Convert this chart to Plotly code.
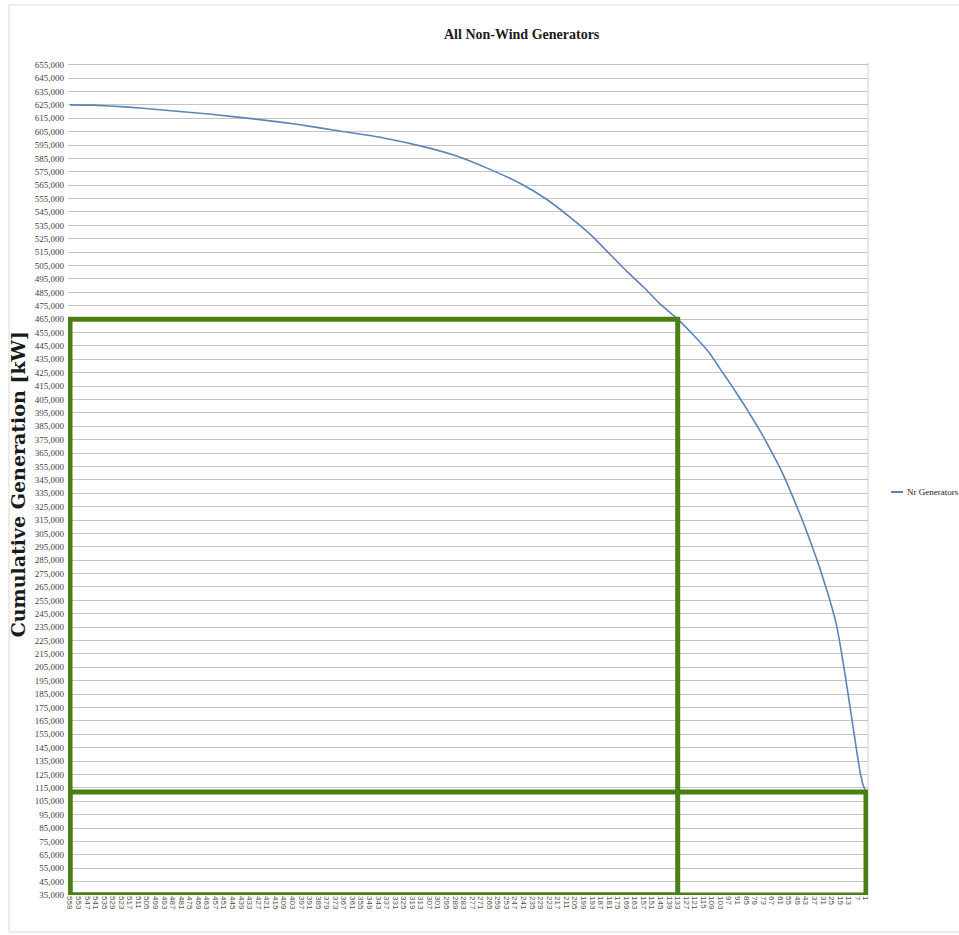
import plotly.graph_objects as go

# Number of generators (descending order, as plotted) and cumulative generation in kW
nr_generators = [559, 543, 520, 496, 460, 426, 400, 370, 340, 312, 290, 265, 242,
                 225, 209, 193, 181, 169, 157, 146, 133, 121, 111, 103, 95, 87,
                 78, 71, 64, 58, 53, 46, 40, 34, 28, 22, 18, 14, 11, 9, 7, 5, 3, 1]
cumulative_kw = [625000, 624800, 623500, 621400, 618000, 614000, 610500, 605500,
                 600500, 594000, 587500, 577000, 565500, 554500, 541500, 527000,
                 514000, 501000, 489000, 477000, 465000, 452000, 440000, 427500,
                 415000, 402000, 386500, 373500, 359500, 346500, 334000, 316000,
                 299000, 281000, 261000, 238000, 215000, 188000, 167000, 153000,
                 139000, 126000, 117000, 112000]

# Category tick labels along the x axis (every 6th generator)
x_ticks = list(range(559, 0, -6))
x_tick_text = [str(v) for v in x_ticks]

# Y axis scale
y_min, y_max, y_step = 35000, 655000, 10000

# Highlighted region boundaries
highlight_n = 133
highlight_kw = cumulative_kw[nr_generators.index(highlight_n)]
first_n = nr_generators[0]
last_n = nr_generators[-1]
last_kw = cumulative_kw[-1]

GREEN = "#4a7f16"
BLUE = "#5b84b8"

fig = go.Figure()
fig.add_trace(go.Scatter(
    x=nr_generators, y=cumulative_kw, mode="lines",
    line=dict(color=BLUE, width=1.6, shape="spline", smoothing=0.4),
    name="Nr Generators", showlegend=False,
))

shapes = [
    # chart-area frame
    dict(type="rect", xref="paper", yref="paper", x0=-0.07375, x1=1.12,
         y0=-0.0444, y1=1.0684, line=dict(color="#d9d9d9", width=1), layer="below"),
    # plot-area right border
    dict(type="line", xref="paper", yref="paper", x0=1, x1=1, y0=0, y1=1,
         line=dict(color="#d0d0d0", width=1)),
    # highlighted boxes
    dict(type="rect", xref="x", yref="y", x0=first_n, x1=highlight_n,
         y0=y_min, y1=highlight_kw, line=dict(color=GREEN, width=5)),
    dict(type="rect", xref="x", yref="y", x0=first_n, x1=last_n,
         y0=y_min, y1=last_kw, line=dict(color=GREEN, width=5)),
    # legend sample line
    dict(type="line", xref="paper", yref="paper", x0=1.02875, x1=1.04375,
         y0=0.4838, y1=0.4838, line=dict(color=BLUE, width=2)),
]

annotations = [
    dict(text="<b>All Non-Wind Generators</b>", xref="paper", yref="paper",
         x=0.5675, y=1.0336, showarrow=False, xanchor="center", yanchor="middle",
         font=dict(family="Liberation Serif", size=14, color="#1a1a1a")),
    dict(text="<b>Cumulative Generation [kW]</b>", xref="paper", yref="paper",
         x=-0.0625, y=0.493, showarrow=False, textangle=-90,
         xanchor="center", yanchor="middle",
         font=dict(family="DejaVu Serif", size=19, color="#1a1a1a")),
    dict(text="Nr Generators", xref="paper", yref="paper",
         x=1.04625, y=0.4838, showarrow=False, xanchor="left", yanchor="middle",
         font=dict(family="Liberation Serif", size=9, color="#1a1a1a")),
]

fig.update_layout(
    width=959, height=935,
    margin=dict(l=68, r=91, t=62, b=40),
    paper_bgcolor="white", plot_bgcolor="white",
    shapes=shapes, annotations=annotations,
    showlegend=False,
)

fig.update_xaxes(
    range=[560.4, -0.4],
    tickmode="array", tickvals=x_ticks, ticktext=x_tick_text,
    tickangle=90, tickfont=dict(family="Liberation Sans", size=8, color="#505050"),
    showgrid=False, zeroline=False, showline=False, ticks="",
    automargin=False,
)

fig.update_yaxes(
    range=[y_min, y_max + 2000],
    tick0=y_min, dtick=y_step, tickformat=",d",
    tickfont=dict(family="Liberation Serif", size=9, color="#404040"),
    ticklabelstandoff=3,
    showgrid=True, gridcolor="#c4c4c4", gridwidth=1.3,
    zeroline=False, showline=False, ticks="",
    automargin=False,
)

fig.write_html("out.html")
